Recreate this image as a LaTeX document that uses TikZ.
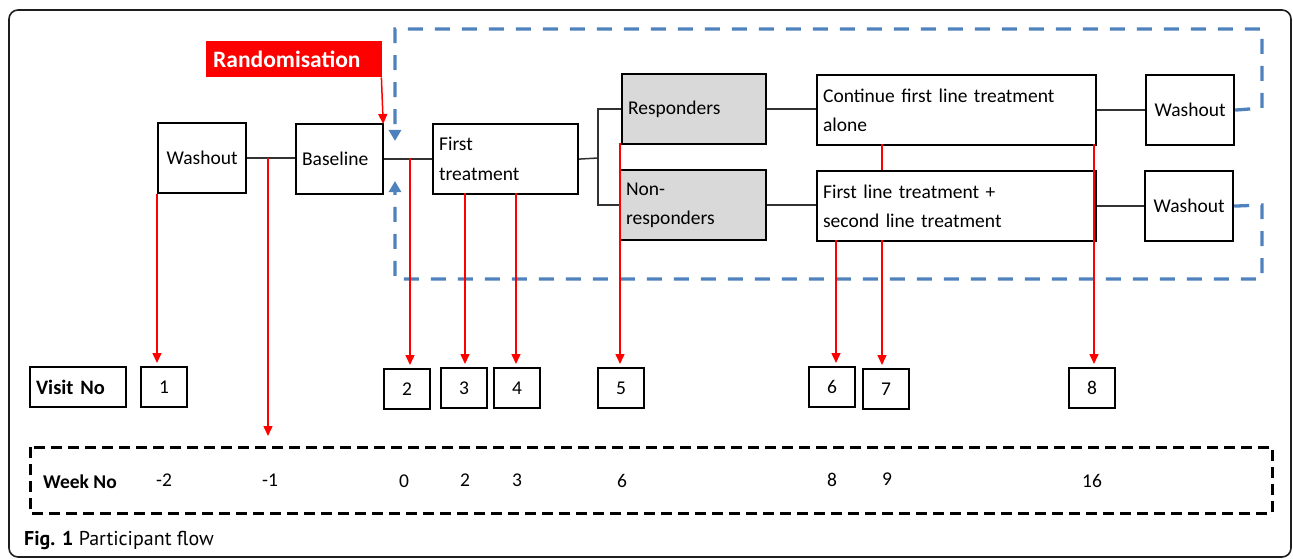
\documentclass[tikz,border=0pt]{standalone}
\usepackage{fontspec}
\setmainfont{Carlito}
\newfontfamily\capfont{PT Sans}
\usetikzlibrary{arrows.meta}
\definecolor{randred}{RGB}{255,0,0}
\definecolor{washblue}{RGB}{79,129,189}
\definecolor{respgray}{RGB}{217,217,217}
\definecolor{connline}{RGB}{50,50,50}
\definecolor{framegray}{RGB}{30,30,30}
\begin{document}
\begin{tikzpicture}[x=1pt,y=-1pt,
  txt/.style={font=\fontsize{19.5}{29.5}\selectfont},
  box/.style={draw=black, line width=2.2pt, fill=white, anchor=north west, inner ysep=0pt, inner xsep=6pt, align=left, txt},
  cbox/.style={box, align=center, inner xsep=0pt},
  gbox/.style={box, fill=respgray},
  vbox/.style={draw=black, line width=2.2pt, anchor=north west, minimum width=46pt, minimum height=40pt, inner sep=0pt, txt},
  conn/.style={draw=connline, line width=1.5pt},
  redarr/.style={draw=randred, line width=1.5pt, -{Triangle[width=9pt,length=10pt]}},
  redln/.style={draw=randred, line width=1.5pt},
  bluedash/.style={draw=washblue, line width=3.3pt, dash pattern=on 15pt off 12pt, -{Triangle[width=12pt,length=11pt]}},
  weekbox/.style={draw=black, line width=3pt, dash pattern=on 11pt off 6pt},
  wk/.style={txt, anchor=center}
]
\useasboundingbox (0,0) rectangle (1293,559);
% outer frame
\draw[framegray, line width=1.6pt, rounded corners=9pt] (9,10) rectangle (1291,557);

% blue dashed loop corners
\coordinate (bTR1) at (1262,108);
\coordinate (bTR2) at (1262,29);
\coordinate (bTL) at (395,29);
\coordinate (bTend) at (395,141);
\coordinate (bBR1) at (1262,205);
\coordinate (bBR2) at (1262,279);
\coordinate (bBL) at (395,279);
\coordinate (bBend) at (395,181);

% nodes
\node[cbox, minimum width=88pt, minimum height=70pt, text width=88pt] (wo1) at (157,122) {Washout};
\node[box, minimum height=70pt, text width=75pt] (base) at (295,123) {Baseline};
\node[box, minimum height=70pt, text width=133pt] (ft) at (432,123) {First\\treatment};
\node[gbox, minimum height=70pt, text width=132pt] (resp) at (621,73) {Responders};
\node[gbox, minimum height=70pt, text width=134pt] (nonr) at (619,169) {Non-\\responders};
\node[box, minimum height=70pt, text width=267pt] (cont) at (816,74) {Continue first line treatment\\alone};
\node[box, minimum height=70pt, text width=267pt] (fl) at (816,170) {First line treatment +\\second line treatment};
\node[cbox, minimum width=88pt, minimum height=70pt, text width=88pt] (wo2) at (1145,74) {Washout};
\node[cbox, minimum width=88pt, minimum height=70pt, text width=88pt] (wo3) at (1144,170) {Washout};

\node[fill=randred, anchor=north west, minimum width=176pt, minimum height=36pt, inner xsep=7pt, inner ysep=0pt, text width=162pt, align=left, text=white, font=\fontsize{23.5}{26}\selectfont\bfseries] (rand) at (206,41) {Randomisation};

% blue paths
\draw[bluedash] (wo2.east) -- (bTR1) -- (bTR2) -- (bTL) -- (bTend);
\draw[bluedash] (wo3.east) -- (bBR1) -- (bBR2) -- (bBL) -- (bBend);

% connectors
\coordinate (split) at (598,158);
\coordinate (wbmid) at (268,158);
\coordinate (bfmid) at (410,158);
\draw[conn] (wo1.east) -- (wo1.east -| base.west);
\draw[conn] (base.east) -- (ft.west);
\draw[conn] (ft.east) -- (split);
\draw[conn] (resp.west) -| (split) |- (nonr.west);
\draw[conn] (resp.east) -- (resp.east -| cont.west);
\draw[conn] (nonr.east) -- (nonr.east -| fl.west);
\draw[conn] (cont.east) -- (cont.east -| wo2.west);
\draw[conn] (fl.east) -- (fl.east -| wo3.west);

% visit row
\node[vbox, minimum width=96pt, text width=84pt, inner xsep=6pt, align=left, font=\fontsize{20.5}{24}\selectfont\bfseries] (vno) at (29,366) {Visit No};
\node[vbox] (v1) at (140,366) {1};
\node[vbox] (v2) at (383,368) {2};
\node[vbox] (v3) at (440,367) {3};
\node[vbox] (v4) at (493,367) {4};
\node[vbox] (v5) at (597,367) {5};
\node[vbox] (v6) at (808,366) {6};
\node[vbox] (v7) at (862,368) {7};
\node[vbox] (v8) at (1068,367) {8};

% week box
\draw[weekbox] (30,447) rectangle (1272,513);
\node[wk, font=\fontsize{19.5}{24}\selectfont\bfseries] (wno) at (80,482) {Week No};
\node[wk] (wm2) at (164,480) {-2};
\node[wk] (wm1) at (270,480) {-1};
\node[wk] (w0) at (404,481) {0};
\node[wk] (w2) at (465,480) {2};
\node[wk] (w3) at (517,480) {3};
\node[wk] (w6) at (622,481) {6};
\node[wk] (w8) at (832,480) {8};
\node[wk] (w9) at (887,479) {9};
\node[wk] (w16) at (1092,481) {16};
\coordinate (wkarrow) at (268,436);

% red lines
\draw[redarr] ([xshift=-1pt]rand.south east) -- ([xshift=-1pt,yshift=-1pt]base.north east);
\draw[redarr] (wo1.south west) -- ([yshift=3pt]wo1.south west |- v1.north);
\draw[redarr] (wbmid) -- (wkarrow);
\draw[redarr] (bfmid) -- ([yshift=3pt]bfmid |- v2.north);
\coordinate (ft3) at (465,193);
\coordinate (ft4) at (516,193);
\draw[redarr] (ft3) -- ([yshift=3pt]ft3 |- v3.north);
\draw[redarr] (ft4) -- ([yshift=3pt]ft4 |- v4.north);
\coordinate (r5) at (620,143);
\draw[redarr] (r5) -- ([yshift=3pt]r5 |- v5.north);
\coordinate (c7a) at (882,144);
\coordinate (c7b) at (882,170);
\coordinate (c7c) at (882,240);
\draw[redln] (c7a) -- (c7b);
\draw[redarr] (c7c) -- ([yshift=3pt]c7c |- v7.north);
\coordinate (c6) at (836,240);
\draw[redarr] (c6) -- ([yshift=3pt]c6 |- v6.north);
\coordinate (c8) at (1094,144);
\draw[redarr] (c8) -- ([yshift=3pt]c8 |- v8.north);

% caption
\node[anchor=west, inner sep=0pt, font=\capfont\fontsize{20}{24}\selectfont] (cap) at (24,540) {\textbf{Fig. 1} Participant flow};
\end{tikzpicture}
\end{document}
